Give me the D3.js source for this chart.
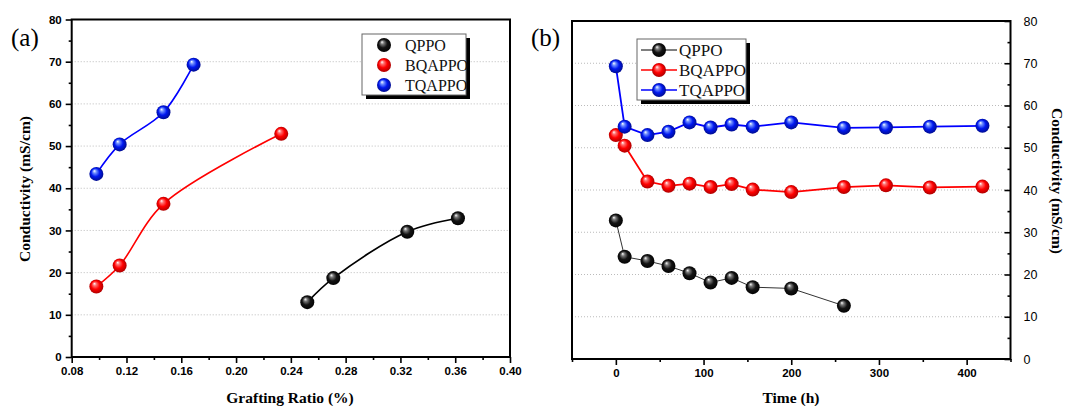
<!DOCTYPE html>
<html>
<head>
<meta charset="utf-8">
<script src="https://cdn.jsdelivr.net/npm/d3@7/dist/d3.min.js"></script>
<style>
  body { margin: 0; background: #fff; }
  svg { display: block; }
</style>
</head>
<body>
<div class="chart"></div>
<script>
// ---- data ----
var seriesNames = ["QPPO", "BQAPPO", "TQAPPO"];
var seriesColors = ["black", "red", "blue"];

// (a) conductivity vs grafting ratio
var qppoRatio = [0.252, 0.271, 0.325, 0.362];
var qppoCond = [13.0, 18.7, 29.7, 32.9];
var bqappoRatio = [0.098, 0.115, 0.147, 0.233];
var bqappoCond = [16.7, 21.7, 36.3, 52.9];
var tqappoRatio = [0.098, 0.115, 0.147, 0.169];
var tqappoCond = [43.4, 50.4, 58.0, 69.3];

// (b) conductivity vs time
var timeHours = [0, 10, 36, 60, 84, 108, 132, 156, 200, 260, 308, 358, 418];
var qppoTime = [32.8, 24.2, 23.2, 22.0, 20.3, 18.1, 19.2, 17.0, 16.7, 12.6];
var bqappoTime = [53.0, 50.5, 42.0, 41.0, 41.5, 40.7, 41.4, 40.1, 39.5, 40.7, 41.1, 40.6, 40.8];
var tqappoTime = [69.3, 55.0, 53.0, 53.8, 56.0, 54.8, 55.5, 55.0, 56.0, 54.7, 54.8, 55.0, 55.2];

var ratioTicks = [0.08, 0.12, 0.16, 0.20, 0.24, 0.28, 0.32, 0.36, 0.40];
var ratioMinor = [0.10, 0.14, 0.18, 0.22, 0.26, 0.30, 0.34, 0.38];
var timeTicks = [0, 100, 200, 300, 400];
var timeMinor = [-50, 50, 150, 250, 350, 450];
var condTicks = [0, 10, 20, 30, 40, 50, 60, 70, 80];
var condMinor = [5, 15, 25, 35, 45, 55, 65, 75];
var gridValues = [10, 20, 30, 40, 50, 60, 70];

var width = 1065, height = 406;
var sansFont = "'Liberation Sans', Arial, sans-serif";
var serifFont = "'Liberation Serif', 'Times New Roman', serif";

var svg = d3.select(".chart").append("svg")
  .attr("width", width).attr("height", height);

// sphere gradients
var defs = svg.append("defs");
var ballStops = {
  black: ["#ffffff", "#7a7a7a", "#141414", "#000000"],
  red: ["#ffffff", "#ff7070", "#ff0000", "#a00000"],
  blue: ["#ffffff", "#7090ff", "#0018f0", "#000a80"]
};
Object.keys(ballStops).forEach(function(c){
  var g = defs.append("radialGradient").attr("id", "ball-" + c)
    .attr("cx", "50%").attr("cy", "50%").attr("r", "55%")
    .attr("fx", "35%").attr("fy", "28%");
  [0, 0.22, 0.55, 1].forEach(function(o, i){
    g.append("stop").attr("offset", o).attr("stop-color", ballStops[c][i]);
  });
});

function drawBall(g, x, y, color){
  g.append("circle").attr("cx", x).attr("cy", y).attr("r", 7)
    .attr("fill", "url(#ball-" + color + ")");
}

function drawGrid(g, x, y){
  g.selectAll(".grid").data(gridValues).enter().append("line")
    .attr("x1", x.range()[0]).attr("x2", x.range()[1])
    .attr("y1", function(d){ return y(d); }).attr("y2", function(d){ return y(d); })
    .attr("stroke", "#bbb").attr("stroke-width", 1).attr("stroke-dasharray", "1,2");
}

function drawFrame(g, x, y){
  g.append("rect")
    .attr("x", x.range()[0]).attr("y", y.range()[1])
    .attr("width", x.range()[1] - x.range()[0])
    .attr("height", y.range()[0] - y.range()[1])
    .attr("fill", "none").attr("stroke", "#000").attr("stroke-width", 2);
}

// generic axis with major + minor ticks
function drawAxis(g, axisFn, scale, major, minor, fmt, pos, inward, labelStyle){
  var ax = g.append("g").attr("transform", pos);
  ax.call(axisFn(scale).tickValues(major).tickFormat(fmt).tickSize(inward ? -6 : 6).tickPadding(inward ? 13 : 4));
  ax.select(".domain").remove();
  ax.selectAll(".tick line").attr("stroke-width", 1.6);
  ax.selectAll(".tick text").attr("font-family", sansFont)
    .attr("font-size", labelStyle.size).attr("font-weight", labelStyle.weight).attr("fill", "#000");
  var mn = g.append("g").attr("transform", pos);
  mn.call(axisFn(scale).tickValues(minor).tickFormat("").tickSize(inward ? -3 : 3));
  mn.select(".domain").remove();
  mn.selectAll(".tick line").attr("stroke-width", 1.6);
  return ax;
}

function drawLegend(g, x0, y0, w, h, withLine){
  var lg = g.append("g").attr("transform", "translate(" + x0 + "," + y0 + ")");
  lg.append("rect").attr("x", 4).attr("y", 4).attr("width", w).attr("height", h).attr("fill", "#000");
  lg.append("rect").attr("x", 0).attr("y", 0).attr("width", w).attr("height", h)
    .attr("fill", "#fff").attr("stroke", "#666").attr("stroke-width", 1);
  seriesNames.forEach(function(name, i){
    var cy = 11 + i * 20;
    if (withLine) {
      lg.append("line").attr("x1", 4).attr("x2", 40).attr("y1", cy).attr("y2", cy)
        .attr("stroke", seriesColors[i]).attr("stroke-width", i == 0 ? 1 : 1.6);
    }
    drawBall(lg, 22, cy, seriesColors[i]);
    lg.append("text").attr("x", withLine ? 42 : 43).attr("y", cy + 5.5)
      .attr("font-family", serifFont).attr("font-size", withLine ? 17 : 16)
      .attr("fill", "#111").text(name);
  });
}

// ---- panel (a) ----
var xa = d3.scaleLinear().domain([0.08, 0.40]).range([71.7, 510]);
var ya = d3.scaleLinear().domain([0, 80]).range([357, 19.5]);
var pa = svg.append("g");

drawGrid(pa, xa, ya);

var fitLine = d3.line().curve(d3.curveCatmullRom.alpha(0.5))
  .x(function(d){ return xa(d[0]); }).y(function(d){ return ya(d[1]); });
var panelA = [
  [qppoRatio, qppoCond],
  [bqappoRatio, bqappoCond],
  [tqappoRatio, tqappoCond]
];
panelA.forEach(function(s, i){
  var pts = d3.zip(s[0], s[1]);
  pa.append("path").datum(pts).attr("d", fitLine)
    .attr("fill", "none").attr("stroke", seriesColors[i]).attr("stroke-width", 1.6);
  pts.forEach(function(p){ drawBall(pa, xa(p[0]), ya(p[1]), seriesColors[i]); });
});

drawAxis(pa, d3.axisBottom, xa, ratioTicks, ratioMinor, d3.format(".2f"),
  "translate(0," + ya.range()[0] + ")", false, {size: 11.5, weight: "bold"});
drawAxis(pa, d3.axisLeft, ya, condTicks, condMinor, d3.format("d"),
  "translate(" + xa.range()[0] + ",0)", false, {size: 11.5, weight: "bold"});
drawFrame(pa, xa, ya);

drawLegend(pa, 362, 34, 104, 61, false);

pa.append("text").attr("x", 11).attr("y", 46)
  .attr("font-family", serifFont).attr("font-size", 25).text("(a)");
pa.append("text").attr("transform", "translate(30,189) rotate(-90)")
  .attr("text-anchor", "middle").attr("font-family", serifFont)
  .attr("font-size", 15.5).attr("font-weight", "bold").text("Conductivity (mS/cm)");
pa.append("text").attr("x", 290).attr("y", 403)
  .attr("text-anchor", "middle").attr("font-family", serifFont)
  .attr("font-size", 15.5).attr("font-weight", "bold").text("Grafting Ratio (%)");

// ---- panel (b) ----
var xb = d3.scaleLinear().domain([-50, 450]).range([572, 1010.5]);
var yb = d3.scaleLinear().domain([0, 80]).range([359, 21]);
var pb = svg.append("g");

drawGrid(pb, xb, yb);

var straight = d3.line()
  .x(function(d){ return xb(d[0]); }).y(function(d){ return yb(d[1]); });
var panelB = [qppoTime, bqappoTime, tqappoTime];
panelB.forEach(function(vals, i){
  var pts = d3.zip(timeHours.slice(0, vals.length), vals);
  pb.append("path").datum(pts).attr("d", straight)
    .attr("fill", "none").attr("stroke", i == 0 ? "#333" : seriesColors[i])
    .attr("stroke-width", i == 0 ? 1 : 1.8);
});
panelB.forEach(function(vals, i){
  vals.forEach(function(v, j){ drawBall(pb, xb(timeHours[j]), yb(v), seriesColors[i]); });
});

drawAxis(pb, d3.axisBottom, xb, timeTicks, timeMinor, d3.format("d"),
  "translate(0," + yb.range()[0] + ")", false, {size: 11.5, weight: "bold"});
drawAxis(pb, d3.axisRight, yb, condTicks, condMinor, d3.format("d"),
  "translate(" + xb.range()[1] + ",0)", true, {size: 12.5, weight: "normal"});
drawFrame(pb, xb, yb);

drawLegend(pb, 637, 39, 109, 61, true);

pb.append("text").attr("x", 531).attr("y", 46)
  .attr("font-family", serifFont).attr("font-size", 25).text("(b)");
pb.append("text").attr("transform", "translate(1052,181) rotate(90)")
  .attr("text-anchor", "middle").attr("font-family", serifFont)
  .attr("font-size", 15.5).attr("font-weight", "bold").text("Conductivity (mS/cm)");
pb.append("text").attr("x", 791).attr("y", 403)
  .attr("text-anchor", "middle").attr("font-family", serifFont)
  .attr("font-size", 15.5).attr("font-weight", "bold").text("Time (h)");
</script>
</body>
</html>
